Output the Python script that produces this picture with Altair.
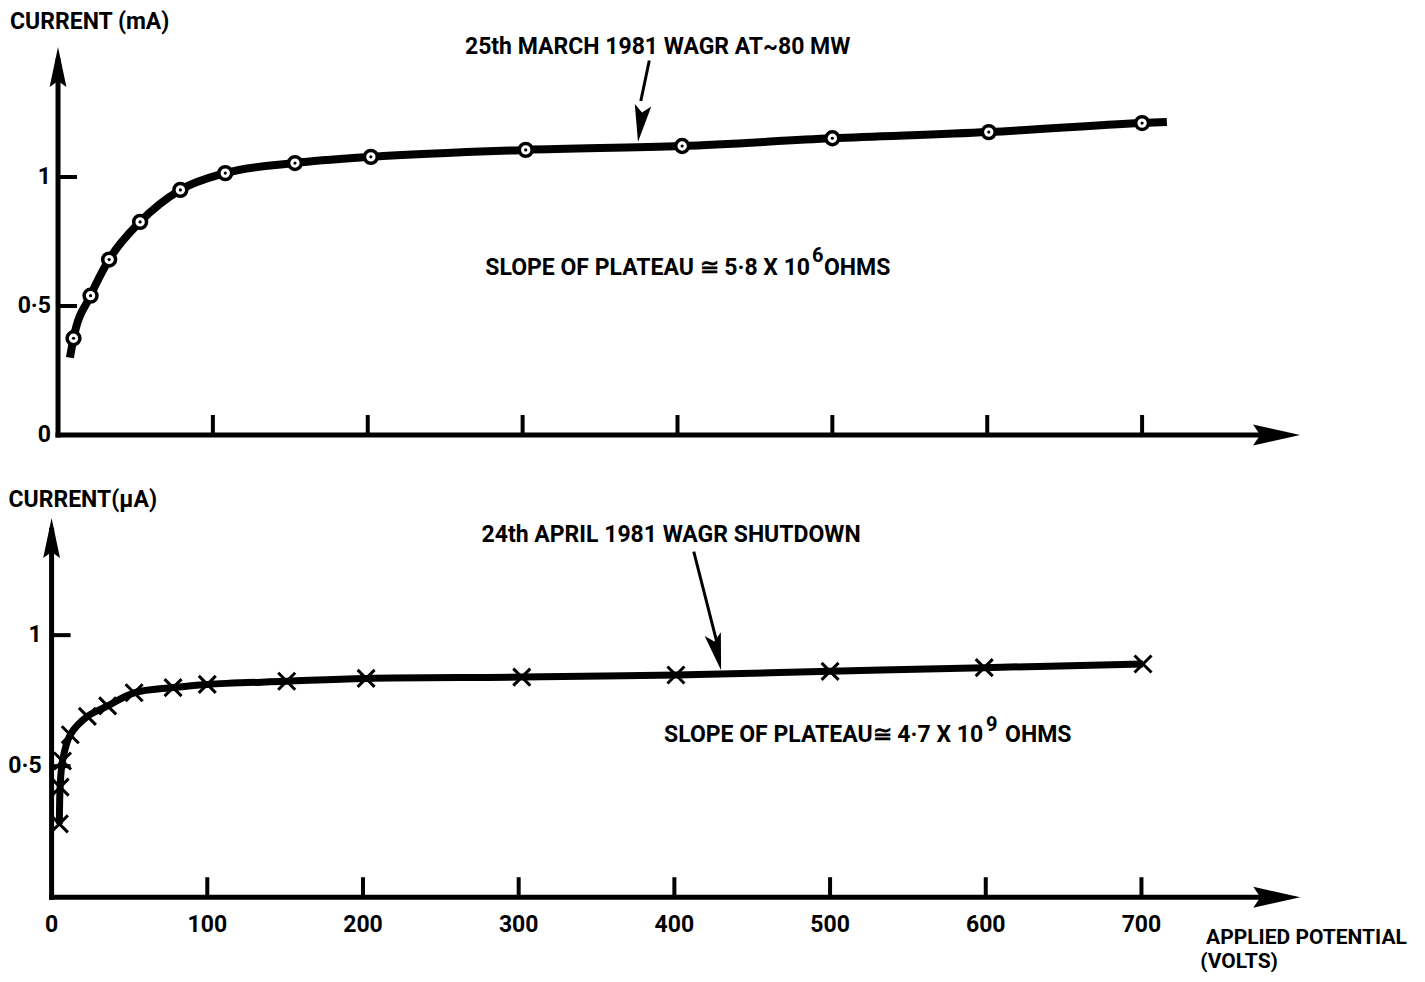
import altair as alt
import pandas as pd

# ---------------- data ----------------
# upper panel : 25th March 1981, current in mA
top_v = [10, 21, 33, 53, 79, 108, 153, 202, 302, 403, 500, 601, 700]
top_i = [0.375, 0.54, 0.68, 0.826, 0.95, 1.015, 1.054, 1.078, 1.105, 1.12, 1.15, 1.174, 1.209]
top_curve_v = [7.7] + top_v + [716]
top_curve_i = [0.30] + top_i + [1.213]

# lower panel : 24th April 1981, current in uA
bot_v = [5, 5.5, 7, 12, 23, 36, 53, 78, 100, 151, 202, 302, 401, 500, 599, 701]
bot_i = [0.28, 0.42, 0.52, 0.62, 0.69, 0.73, 0.78, 0.80, 0.812, 0.824, 0.835, 0.84, 0.848, 0.862, 0.876, 0.89]

x_tick_values = [100, 200, 300, 400, 500, 600, 700]
x_label_values = [0, 100, 200, 300, 400, 500, 600, 700]
x_label_texts = ["0", "100", "200", "300", "400", "500", "600", "700"]
y_tick_values = [0.5, 1]
top_y_label_values = [0, 0.5, 1]
top_y_label_texts = ["0", "0·5", "1"]
bot_y_label_values = [0.5, 1]
bot_y_label_texts = ["0·5", "1"]

# ---------------- styling / layout constants ----------------
FONT = "Roboto, Liberation Sans, sans-serif"
FS = 23
W = 1400
TOP_H, BOT_H = 427, 477
xs_top = alt.Scale(domain=[-32.3, 871.7], nice=False, zero=False)
ys_top = alt.Scale(domain=[0, 1.655], nice=False, zero=False)
xs_bot = alt.Scale(domain=[-28, 871.2], nice=False, zero=False)
ys_bot = alt.Scale(domain=[-0.27, 1.55], nice=False, zero=False)

ARROW_RIGHT = "M0,0 L-2,-0.45 L-1.7,0 L-2,0.45 Z"
ARROW_UP = "M0,0 L-0.42,2 L0,1.7 L0.42,2 Z"
ARROW_DOWN = "M0,0 L-0.45,-2 L0,-1.6 L0.45,-2 Z"
TICK_UP = "M0,0 L0,-1"
TICK_RIGHT = "M0,0 L1,0"
XMARK = "M-1,-1 L1,1 M-1,1 L1,-1"


def enc(xs, ys, **extra):
    return dict(
        x=alt.X("x:Q", scale=xs, axis=None),
        y=alt.Y("y:Q", scale=ys, axis=None),
        **extra,
    )


def texts(df, xs, ys, **kw):
    base = dict(font=FONT, fontSize=FS, fontWeight="bold", color="black", baseline="middle")
    base.update(kw)
    return alt.Chart(df).mark_text(**base).encode(**enc(xs, ys, text="t:N"))


def points(df, xs, ys, **kw):
    base = dict(opacity=1)
    base.update(kw)
    return alt.Chart(df).mark_point(**base).encode(**enc(xs, ys))


def rules(df, xs, ys, width):
    return alt.Chart(df).mark_rule(color="black", strokeWidth=width, strokeCap="square").encode(
        x=alt.X("x:Q", scale=xs, axis=None),
        y=alt.Y("y:Q", scale=ys, axis=None),
        x2="x2:Q",
        y2="y2:Q",
    )


def panel(xs, ys, axis_end_x, axis_tip_x, axis_end_y, axis_tip_y, y_lbl_vals, y_lbl_txt,
          y_lbl_dx, x_labels):
    layers = []
    ax = pd.DataFrame({"x": [0, 0], "y": [0, 0], "x2": [axis_end_x, 0], "y2": [0, axis_end_y]})
    layers.append(rules(ax, xs, ys, 5))
    layers.append(points(pd.DataFrame({"x": [axis_tip_x], "y": [0]}), xs, ys,
                         shape=ARROW_RIGHT, filled=True, color="black", size=2209, strokeWidth=0))
    layers.append(points(pd.DataFrame({"x": [0], "y": [axis_tip_y]}), xs, ys,
                         shape=ARROW_UP, filled=True, color="black", size=1600, strokeWidth=0))
    layers.append(points(pd.DataFrame({"x": x_tick_values, "y": [0] * len(x_tick_values)}), xs, ys,
                         shape=TICK_UP, filled=False, color="black", size=1600, strokeWidth=4))
    layers.append(points(pd.DataFrame({"x": [0] * len(y_tick_values), "y": y_tick_values}), xs, ys,
                         shape=TICK_RIGHT, filled=False, color="black", size=1444, strokeWidth=4))
    layers.append(texts(pd.DataFrame({"x": [0] * len(y_lbl_vals), "y": y_lbl_vals, "t": y_lbl_txt}),
                        xs, ys, align="right", dx=y_lbl_dx))
    if x_labels:
        layers.append(texts(pd.DataFrame({"x": x_label_values, "y": [0] * len(x_label_values),
                                          "t": x_label_texts}), xs, ys, align="center", dy=28))
    return layers


# ---------------- upper panel ----------------
top_layers = panel(xs_top, ys_top, 790, 802, 1.45, 1.504, top_y_label_values, top_y_label_texts, -7, False)

top_curve = pd.DataFrame({"x": top_curve_v, "y": top_curve_i})
top_layers.append(alt.Chart(top_curve).mark_line(color="black", strokeWidth=8, interpolate="monotone",
                                                 strokeCap="butt").encode(**enc(xs_top, ys_top)))
top_pts = pd.DataFrame({"x": top_v, "y": top_i})
top_layers.append(points(top_pts, xs_top, ys_top, shape="circle", filled=True, fill="white",
                         stroke="black", strokeWidth=3.5, size=165))
top_layers.append(points(top_pts, xs_top, ys_top, shape="circle", filled=True, color="black", size=10))

# annotation arrow (upper)
top_layers.append(rules(pd.DataFrame({"x": [381.6], "y": [1.446], "x2": [376.5], "y2": [1.30]}),
                        xs_top, ys_top, 3))
top_layers.append(points(pd.DataFrame({"x": [374.5], "y": [1.136]}), xs_top, ys_top,
                         shape=ARROW_DOWN, filled=True, color="black", size=1369, strokeWidth=0, angle=7.8))

top_layers.append(texts(pd.DataFrame({"x": [-31], "y": [1.60], "t": ["CURRENT (mA)"]}), xs_top, ys_top,
                        align="left"))
top_layers.append(texts(pd.DataFrame({"x": [387.2], "y": [1.504], "t": ["25th MARCH  1981  WAGR AT~80 MW"]}),
                        xs_top, ys_top, align="center"))
top_layers.append(texts(pd.DataFrame({"x": [485.6], "y": [0.647], "t": ["SLOPE OF PLATEAU ≅ 5·8 X 10"]}),
                        xs_top, ys_top, align="right"))
top_layers.append(texts(pd.DataFrame({"x": [486.9], "y": [0.694], "t": ["6"]}), xs_top, ys_top,
                        align="left", fontSize=20))
top_layers.append(texts(pd.DataFrame({"x": [494.6], "y": [0.647], "t": ["OHMS"]}), xs_top, ys_top,
                        align="left"))

top = alt.layer(*top_layers).properties(width=W, height=TOP_H)

# ---------------- lower panel ----------------
bot_layers = panel(xs_bot, ys_bot, 790, 802, 1.40, 1.447, bot_y_label_values, bot_y_label_texts, -10, True)

bot_df = pd.DataFrame({"x": bot_v, "y": bot_i, "o": list(range(len(bot_v)))})
bot_layers.append(alt.Chart(bot_df).mark_line(color="black", strokeWidth=7, interpolate="catmull-rom",
                                              strokeCap="butt").encode(
    **enc(xs_bot, ys_bot, order=alt.Order("o:Q"))))
bot_layers.append(points(bot_df, xs_bot, ys_bot, shape=XMARK, filled=False, color="black",
                         size=289, strokeWidth=3))

# annotation arrow (lower)
bot_layers.append(rules(pd.DataFrame({"x": [412.7], "y": [1.313], "x2": [427.0], "y2": [0.98]}),
                        xs_bot, ys_bot, 3))
bot_layers.append(points(pd.DataFrame({"x": [430.0], "y": [0.866]}), xs_bot, ys_bot,
                         shape=ARROW_DOWN, filled=True, color="black", size=1369, strokeWidth=0, angle=347))

bot_layers.append(texts(pd.DataFrame({"x": [-27.7], "y": [1.515], "t": ["CURRENT(μA)"]}), xs_bot, ys_bot,
                        align="left"))
bot_layers.append(texts(pd.DataFrame({"x": [397.9], "y": [1.382], "t": ["24th APRIL 1981 WAGR SHUTDOWN"]}),
                        xs_bot, ys_bot, align="center"))
bot_layers.append(texts(pd.DataFrame({"x": [598.3], "y": [0.618], "t": ["SLOPE OF PLATEAU≅ 4·7 X 10"]}),
                        xs_bot, ys_bot, align="right"))
bot_layers.append(texts(pd.DataFrame({"x": [600.2], "y": [0.656], "t": ["9"]}), xs_bot, ys_bot,
                        align="left", fontSize=20))
bot_layers.append(texts(pd.DataFrame({"x": [612.4], "y": [0.618], "t": ["OHMS"]}), xs_bot, ys_bot,
                        align="left"))
bot_layers.append(texts(pd.DataFrame({"x": [870.5], "y": [-0.154], "t": ["APPLIED  POTENTIAL"]}),
                        xs_bot, ys_bot, align="right", fontSize=21))
bot_layers.append(texts(pd.DataFrame({"x": [737.7], "y": [-0.247], "t": ["(VOLTS)"]}),
                        xs_bot, ys_bot, align="left", fontSize=21))

bot = alt.layer(*bot_layers).properties(width=W, height=BOT_H)

chart = (
    alt.vconcat(top, bot, spacing=56, bounds="flush")
    .properties(padding=0, background="white")
    .configure_view(stroke=None)
)

chart.save("out.html", embed_options={"renderer": "svg", "actions": False})
